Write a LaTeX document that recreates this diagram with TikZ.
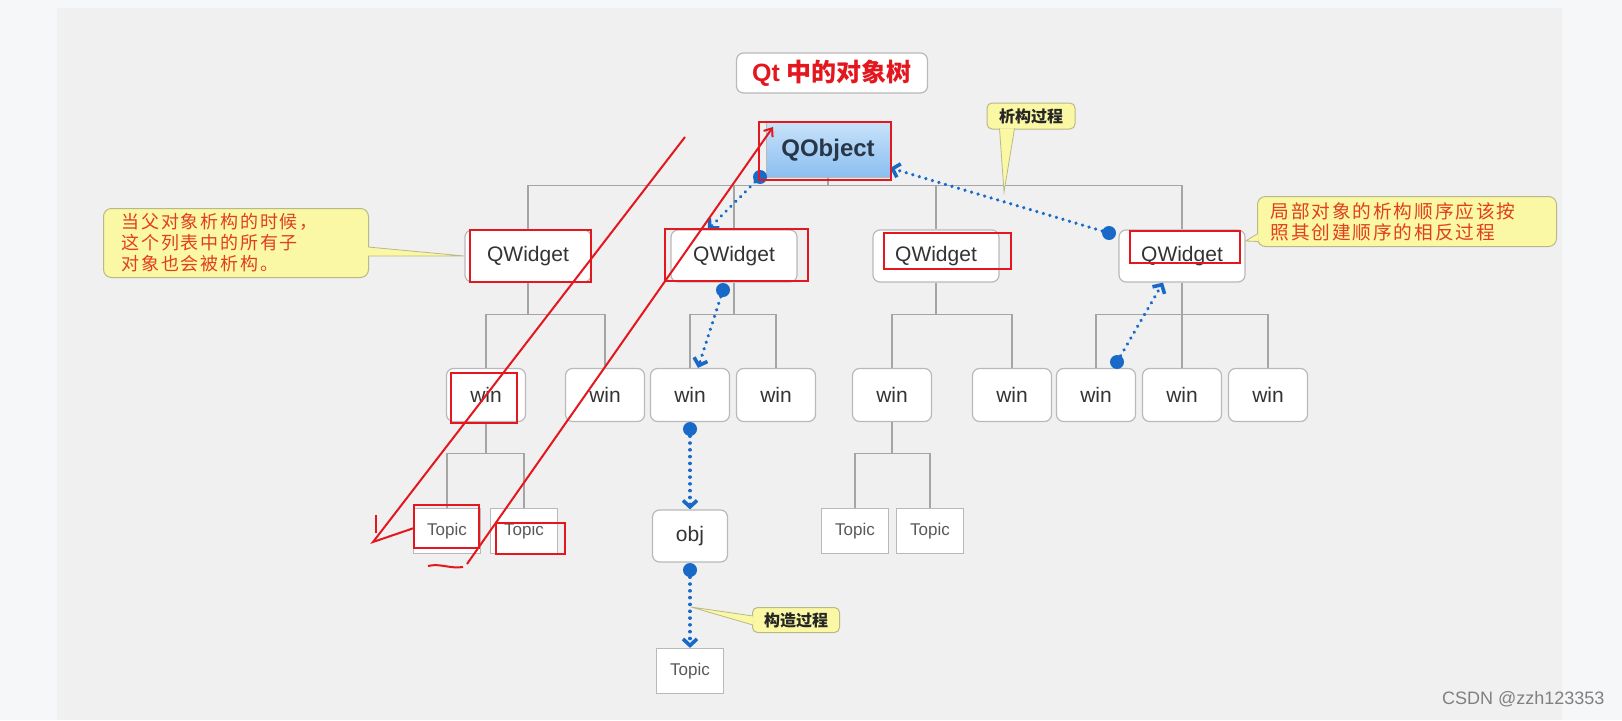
\documentclass[tikz,border=0pt]{standalone}
\usepackage{fontspec}
\setmainfont{Liberation Sans}
\newfontfamily\cjk{Noto Sans CJK SC}
\newfontfamily\cjknote[LetterSpace=10]{Noto Sans CJK SC}
\usetikzlibrary{arrows.meta,calc}

\definecolor{bgout}{RGB}{246,247,249}
\definecolor{bgin}{RGB}{240,240,240}
\definecolor{boxline}{RGB}{185,185,185}
\definecolor{treeline}{RGB}{165,165,165}
\definecolor{flowblue}{RGB}{25,105,200}
\definecolor{markred}{RGB}{228,22,30}
\definecolor{notefill}{RGB}{250,248,165}
\definecolor{noteline}{RGB}{185,185,135}
\definecolor{notetext}{RGB}{226,62,28}
\definecolor{objtop}{RGB}{200,226,250}
\definecolor{objbot}{RGB}{138,190,240}
\definecolor{objtext}{RGB}{40,55,72}

\begin{document}
\begin{tikzpicture}[x=1pt, y=-1pt,
  box/.style={draw=boxline, line width=1.2pt, fill=white, rounded corners=7pt,
    font=\fontsize{21}{21}\selectfont, text=black!80},
  widget/.style={box, minimum width=126pt, minimum height=52pt},
  winbox/.style={box, minimum width=79pt, minimum height=53pt},
  topicbox/.style={draw=boxline, line width=1.2pt, fill=white, minimum width=67pt,
    minimum height=45pt, font=\fontsize{17}{17}\selectfont, text=black!65},
  tree/.style={draw=treeline, line width=1.2pt},
  flow/.style={flowblue, line width=3.6pt, dash pattern=on 0.01pt off 6.8pt, line cap=round,
    -{Straight Barb[length=6.5pt, width=14pt]}},
  dot/.style={circle, fill=flowblue, inner sep=0pt, minimum size=14pt},
  note/.style={draw=noteline, line width=1pt, fill=notefill, rounded corners=8pt},
  pointer/.style={fill=notefill, draw=noteline, line width=0.8pt},
  redmark/.style={draw=markred, line width=2pt}]

  %% Background
  \useasboundingbox (0,0) rectangle (1622,720);
  \fill[bgout] (0,0) rectangle (1622,720);
  \fill[bgin] (57,8) rectangle (1562,720);

  % Title
  \node[box, minimum width=191pt, minimum height=40pt, text=markred,
    font=\fontsize{25}{25}\selectfont] (title) at (832,73)
    {\textbf{Qt} {\cjk\bfseries 中的对象树}};

  % Root
  \node[draw=boxline, top color=objtop, bottom color=objbot, minimum width=124pt,
    minimum height=55pt, text=objtext, font=\bfseries\fontsize{24}{24}\selectfont]
    (qobj) at (828,150) {QObject};

  % Level 1
  \node[widget] (qw1) at (528,256) {QWidget};
  \node[widget] (qw2) at (734,256) {QWidget};
  \node[widget] (qw3) at (936,256) {QWidget};
  \node[widget] (qw4) at (1182,256) {QWidget};

  % Level 2
  \node[winbox] (w1) at (486,395) {win};
  \node[winbox] (w2) at (605,395) {win};
  \node[winbox] (w3) at (690,395) {win};
  \node[winbox] (w4) at (776,395) {win};
  \node[winbox] (w5) at (892,395) {win};
  \node[winbox] (w6) at (1012,395) {win};
  \node[winbox] (w7) at (1096,395) {win};
  \node[winbox] (w8) at (1182,395) {win};
  \node[winbox] (w9) at (1268,395) {win};

  % Level 3
  \node[topicbox] (t1) at (447,531) {Topic};
  \node[topicbox] (t2) at (524,531) {Topic};
  \node[topicbox] (t3) at (855,531) {Topic};
  \node[topicbox] (t4) at (930,531) {Topic};
  \node[box, minimum width=75pt, minimum height=52pt] (obj) at (690,536) {obj};
  \node[topicbox] (t5) at (690,671) {Topic};

  %% Tree lines
  \draw[tree] (qobj.south) -- ++(0,8) coordinate (b0);
  \foreach \c in {qw1,qw2,qw3,qw4} \draw[tree] (b0) -| (\c.north);

  \draw[tree] (qw1.south) -- ++(0,32) coordinate (b1);
  \foreach \c in {w1,w2} \draw[tree] (b1) -| (\c.north);
  \draw[tree] (qw2.south) -- ++(0,32) coordinate (b2);
  \foreach \c in {w3,w4} \draw[tree] (b2) -| (\c.north);
  \draw[tree] (qw3.south) -- ++(0,32) coordinate (b3);
  \foreach \c in {w5,w6} \draw[tree] (b3) -| (\c.north);
  \draw[tree] (qw4.south) -- ++(0,32) coordinate (b4);
  \foreach \c in {w7,w8,w9} \draw[tree] (b4) -| (\c.north);

  \draw[tree] (w1.south) -- ++(0,31) coordinate (b5);
  \foreach \c in {t1,t2} \draw[tree] (b5) -| (\c.north);
  \draw[tree] (w5.south) -- ++(0,31) coordinate (b6);
  \foreach \c in {t3,t4} \draw[tree] (b6) -| (\c.north);

  %% Callouts
  \node[note, anchor=north west, minimum height=69pt, text width=229pt, inner xsep=18pt,
    align=left, text=notetext, font=\cjknote\fontsize{18}{21}\selectfont] (n1) at (103,208)
    {当父对象析构的时候，\\这个列表中的所有子\\对象也会被析构。};
  \filldraw[pointer] ($(n1.east)+(-1,4)$) -- (qw1.west) -- ($(n1.east)+(-1,13)$);

  \node[note, anchor=north west, minimum height=50pt, text width=273pt, inner xsep=13pt,
    align=left, text=notetext, font=\cjknote\fontsize{18.7}{21}\selectfont] (n2) at (1257,196)
    {局部对象的析构顺序应该按\\照其创建顺序的相反过程};
  \filldraw[pointer] ($(n2.west)+(1,12)$) -- ($(qw4.east)+(0,-15)$) -- ($(n2.west)+(1,20)$);

  \node[note, rounded corners=5pt, minimum width=88pt, minimum height=26pt, text=black!85,
    font=\cjk\bfseries\fontsize{16}{16}\selectfont] (n3) at (1031,116) {析构过程};
  \coordinate (p3) at (1004,192);
  \filldraw[pointer] ($(n3.south west)+(13,-1)$) -- (p3) -- ($(n3.south west)+(28,-1)$);

  \node[note, rounded corners=5pt, minimum width=87pt, minimum height=25pt, text=black!85,
    font=\cjk\bfseries\fontsize{16}{16}\selectfont] (n4) at (796,620) {构造过程};
  \coordinate (p4) at (691,607);
  \filldraw[pointer] ($(n4.west)+(1,-4)$) -- (p4) -- ($(n4.west)+(1,5)$);

  %% Construction / destruction order
  \node[dot] (s1) at (760,177) {};
  \node[dot] (s2) at (723,290) {};
  \node[dot] (s3) at (690,429) {};
  \node[dot] (s4) at (690,570) {};
  \node[dot] (s5) at (1109,233) {};
  \node[dot] (s6) at (1117,362) {};
  \draw[flow] (s1) -- ([xshift=-26pt]qw2.north);
  \draw[flow] (s2) -- ([xshift=8pt]w3.north);
  \draw[flow] (s3) -- (obj.north);
  \draw[flow] (s4) -- (t5.north);
  \draw[flow] (s5) -- ([yshift=-18pt]qobj.east);
  \draw[flow] (s6) -- ([xshift=-19pt]qw4.south);

  %% Red hand marks
  \draw[redmark] (759,122) rectangle (891,180);
  \draw[redmark] (470,230) rectangle (591,282);
  \draw[redmark] (665,229) rectangle (808,281);
  \draw[redmark] (884,233) rectangle (1011,269);
  \draw[redmark] (1130,231) rectangle (1240,263);
  \draw[redmark] (451,373) rectangle (517,423);
  \draw[redmark] (414,505) rectangle (479,548);
  \draw[redmark] (496,523) rectangle (565,554);
  \draw[redmark] (685,137) -- (373,542) -- (414,528);
  \draw[redmark] (376,515) -- (376,533);
  \draw[redmark, -{Straight Barb[length=7pt, width=11pt]}] (467,564) -- (773,127);
  \draw[redmark] (428,566) .. controls (440,563) and (450,569) .. (463,567);

  % Watermark
  \node[anchor=east, text=black!50, font=\fontsize{18}{18}\selectfont] (wm) at (1608,699)
    {CSDN @zzh123353};
\end{tikzpicture}
\end{document}
